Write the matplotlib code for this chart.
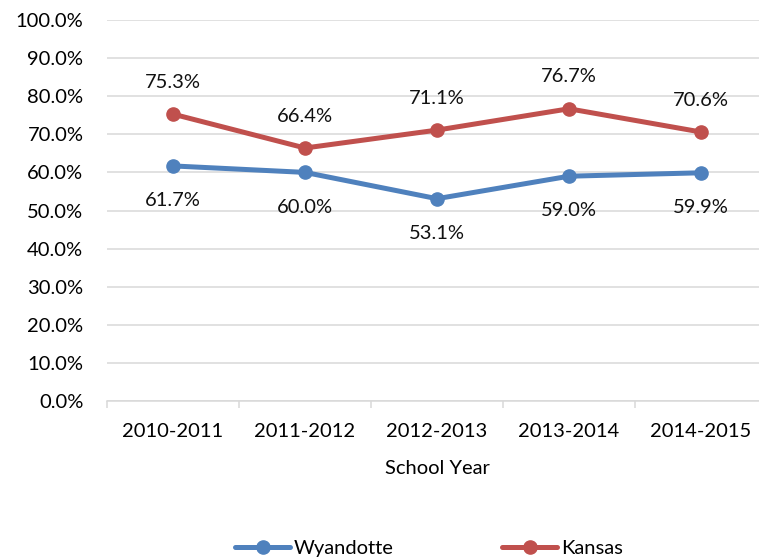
import numpy as np
import matplotlib.pyplot as plt
from matplotlib.ticker import FixedLocator, PercentFormatter

# school-year rates, in percent
years = ['2010-2011', '2011-2012', '2012-2013', '2013-2014', '2014-2015']
wyandotte = [61.7, 60.0, 53.1, 59.0, 59.9]
kansas = [75.3, 66.4, 71.1, 76.7, 70.6]

blue = '#4F81BD'
red = '#C0504D'
grid_gray = '#D9D9D9'

plt.rcParams['font.family'] = ['Lato', 'DejaVu Sans']
fs = 14.5

fig = plt.figure(figsize=(7.59, 5.6), dpi=100)
ax = fig.add_axes([107 / 759, 159 / 560, 660 / 759, 381 / 560])

x = np.arange(len(years))
ax.plot(x, wyandotte, color=blue, lw=3.6, marker='o', ms=9.5,
        solid_capstyle='round', label='Wyandotte', zorder=3)
ax.plot(x, kansas, color=red, lw=3.6, marker='o', ms=9.5,
        solid_capstyle='round', label='Kansas', zorder=3)

# value labels: Kansas above its points, Wyandotte below
for xi, v in zip(x, kansas):
    ax.annotate(f'{v:.1f}%', (xi, v), xytext=(0, 23), textcoords='offset points',
                ha='center', va='center', fontsize=fs, color='#111111')
for xi, v in zip(x, wyandotte):
    ax.annotate(f'{v:.1f}%', (xi, v), xytext=(0, -25), textcoords='offset points',
                ha='center', va='center', fontsize=fs, color='#111111')

ax.set_xlim(-0.5, len(years) - 0.5)
ax.set_ylim(0, 100)
ax.set_yticks(np.arange(0, 101, 10))
ax.yaxis.set_major_formatter(PercentFormatter(decimals=1))
ax.grid(axis='y', color=grid_gray, lw=1.1, zorder=0)
ax.set_axisbelow(True)

ax.set_xticks(x)
ax.set_xticklabels(years)
ax.xaxis.set_minor_locator(FixedLocator(np.arange(-0.5, len(years), 1.0)))
ax.tick_params(axis='x', which='major', length=0, pad=16, labelsize=fs)
ax.tick_params(axis='x', which='minor', length=5, width=1.1, color=grid_gray)
ax.tick_params(axis='y', length=0, pad=17, labelsize=fs)
ax.set_xlabel('School Year', fontsize=fs, labelpad=14)

for side in ['top', 'right', 'left']:
    ax.spines[side].set_visible(False)
ax.spines['bottom'].set_color(grid_gray)
ax.spines['bottom'].set_linewidth(1.1)

fig.legend(loc='center', bbox_to_anchor=(429 / 759, 12 / 560), ncol=2,
           frameon=False, fontsize=fs, handlelength=2.7, handletextpad=0.2,
           columnspacing=5.4)

fig.savefig('out.png', dpi=100)
